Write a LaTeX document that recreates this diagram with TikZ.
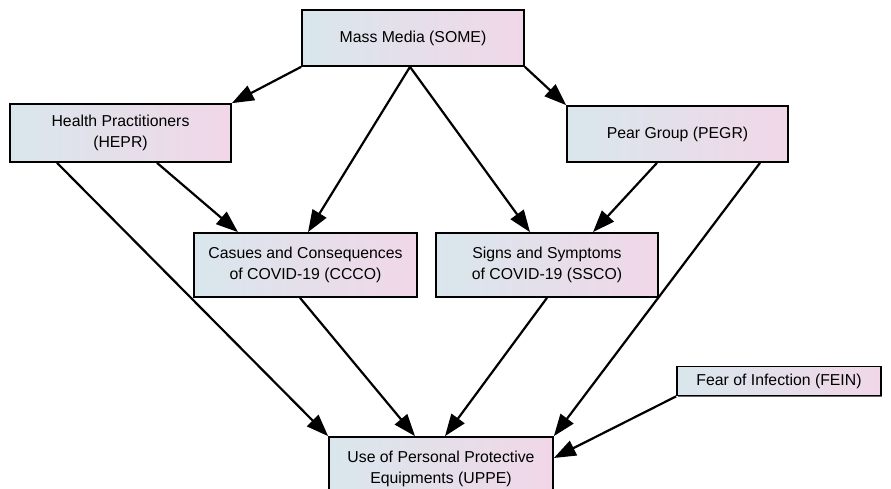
\documentclass[tikz,border=0pt]{standalone}
\usepackage{fontspec}
\setmainfont{Liberation Sans}
\usetikzlibrary{arrows.meta,shadows}
\definecolor{boxleft}{HTML}{D9E7EC}
\definecolor{boxright}{HTML}{F1D7E8}
\tikzset{
  varbox/.style={draw=black, line width=1.7pt, rectangle, left color=boxleft, right color=boxright,
    align=center, inner sep=0pt, font=\fontsize{15.8}{20.5}\selectfont,
    general shadow={shadow xshift=1.3pt, shadow yshift=-1.3pt, fill=black!60}},
  link/.style={line width=2.2pt, -{Triangle[length=22pt,width=16pt]}, shorten >=0pt}
}
\begin{document}
\begin{tikzpicture}[x=1pt,y=-1pt]
\useasboundingbox (0,0) rectangle (891,489);
\node[varbox, minimum width=222pt, minimum height=56pt] (some) at (413,38) {Mass Media (SOME)};
\node[varbox, minimum width=221pt, minimum height=58pt] (hepr) at (120.5,133) {Health Practitioners\\(HEPR)};
\node[varbox, minimum width=221pt, minimum height=56pt] (pegr) at (677.5,134) {Pear Group (PEGR)};
\node[varbox, minimum width=223pt, minimum height=64pt] (ccco) at (305.5,265) {Casues and Consequences\\of COVID-19 (CCCO)};
\node[varbox, minimum width=222pt, minimum height=64pt] (ssco) at (547,265) {Signs and Symptoms\\of COVID-19 (SSCO)};
\node[varbox, minimum width=204pt, minimum height=29pt] (fein) at (779,381) {Fear of Infection (FEIN)};
\node[varbox, minimum width=224pt, minimum height=64pt] (uppe) at (441,469) {Use of Personal Protective\\Equipments (UPPE)};

\draw[link] (some.south west) -- (hepr.north east);
\draw[link] (some.south east) -- (pegr.north west);
\draw[link] ([xshift=-3pt]some.south) -- ([xshift=2.5pt]ccco.north);
\draw[link] ([xshift=-3pt]some.south) -- ([xshift=-17pt]ssco.north);
\draw[link] ([xshift=36.5pt]hepr.south) -- ([xshift=-67.5pt]ccco.north);
\draw[link] ([xshift=-63.5pt]hepr.south) -- (uppe.north west);
\draw[link] ([xshift=-20.5pt]pegr.south) -- ([xshift=46pt]ssco.north);
\draw[link] ([xshift=82.5pt]pegr.south) -- (uppe.north east);
\draw[link] ([xshift=-5.5pt]ccco.south) -- ([xshift=-26pt]uppe.north);
\draw[link] ([xshift=0pt]ssco.south) -- ([xshift=4pt]uppe.north);
\draw[link] (fein.south west) -- ([yshift=11pt]uppe.east);
\end{tikzpicture}
\end{document}
